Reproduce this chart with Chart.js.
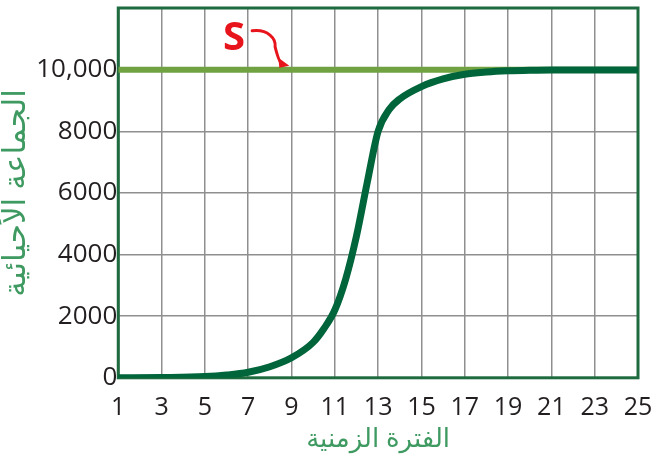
<!DOCTYPE html>
<html>
<head>
<meta charset="utf-8">
<script src="https://cdn.jsdelivr.net/npm/chart.js@4/dist/chart.umd.min.js"></script>
<style>
  html, body { margin: 0; padding: 0; background: #ffffff; }
  #wrap { width: 656px; height: 457px; position: relative; }
</style>
</head>
<body>
<div id="wrap"><canvas id="c" width="656" height="457"></canvas></div>
<script>
// ---- data ----
const timePeriods = [1, 3, 5, 6, 7, 8, 9, 10, 10.5, 11, 11.5, 12, 12.5, 13, 13.5, 14, 15, 16, 17, 18, 19, 20, 21, 22, 23, 24, 25];
const populationValues = [0, 10, 40, 90, 180, 360, 650, 1150, 1600, 2200, 3200, 4600, 6350, 8000, 8700, 9050, 9450, 9700, 9850, 9920, 9960, 9980, 9990, 9990, 9990, 9990, 9990];
const capacityX = [1, 25];
const capacityValues = [10000, 10000];
const yTickLabels = ['0', '2000', '4000', '6000', '8000', '10,000', ''];
const xAxisTitle = 'الفترة الزمنية';
const yAxisTitle = 'الجماعة الأحيائية';
const annotationText = 'S';
const annotationAt = { x: 6.35, y: 11000 };
const arrowTarget = { x: 8.9, y: 10000 };

const curvePoints = timePeriods.map((t, i) => ({ x: t, y: populationValues[i] }));
const capacityPoints = capacityX.map((t, i) => ({ x: t, y: capacityValues[i] }));

const frameColor = '#1d6b3e';
const gridColor = '#8f8f8f';
const titleColor = '#3f9a62';
const tickColor = '#231f20';

const framePlugin = {
  id: 'frame',
  beforeDatasetsDraw(chart) {
    const { ctx, chartArea: a } = chart;
    ctx.save();
    ctx.strokeStyle = frameColor;
    ctx.lineWidth = 3;
    ctx.strokeRect(a.left, a.top, a.right - a.left, a.bottom - a.top);
    ctx.restore();
  }
};

const annotationPlugin = {
  id: 'sAnnot',
  afterDatasetsDraw(chart) {
    const { ctx, scales } = chart;
    const x = scales.x.getPixelForValue(annotationAt.x);
    const y = scales.y.getPixelForValue(annotationAt.y);
    const tx = scales.x.getPixelForValue(arrowTarget.x);
    const ty = scales.y.getPixelForValue(arrowTarget.y) - 4;
    ctx.save();
    ctx.fillStyle = '#e8141b';
    ctx.strokeStyle = '#e8141b';
    ctx.font = 'bold 40px "Open Sans", sans-serif';
    ctx.textAlign = 'center';
    ctx.textBaseline = 'middle';
    ctx.fillText(annotationText, x, y);
    // curved arrow
    const sx = x + 18, sy = y - 8;
    ctx.lineWidth = 3;
    ctx.lineCap = 'round';
    ctx.beginPath();
    ctx.moveTo(sx, sy);
    ctx.bezierCurveTo(sx + 16, sy - 2, sx + 24, sy + 8, sx + 23, sy + 16);
    ctx.quadraticCurveTo(tx - 10, ty - 2, tx - 7, ty - 2);
    ctx.stroke();
    // arrow head
    ctx.beginPath();
    ctx.moveTo(tx, ty);
    ctx.lineTo(tx - 11, ty - 8);
    ctx.lineTo(tx - 10, ty + 2);
    ctx.closePath();
    ctx.fill();
    ctx.restore();
  }
};

new Chart(document.getElementById('c'), {
  type: 'scatter',
  data: {
    datasets: [
      {
        label: 'S',
        data: capacityPoints,
        showLine: true,
        borderColor: '#70a242',
        borderWidth: 6,
        pointRadius: 0,
        order: 2
      },
      {
        label: 'population',
        data: curvePoints,
        showLine: true,
        borderColor: '#00653a',
        borderWidth: 7,
        pointRadius: 0,
        cubicInterpolationMode: 'monotone',
        borderCapStyle: 'round',
        order: 1
      }
    ]
  },
  options: {
    responsive: false,
    animation: false,
    layout: { padding: { left: -2, right: 18, top: 8, bottom: 0 } },
    plugins: { legend: { display: false }, tooltip: { enabled: false } },
    scales: {
      x: {
        type: 'linear',
        min: 1, max: 25,
        afterFit: (s) => { s.paddingRight = 0; s.paddingLeft = 0; },
        ticks: { stepSize: 2, color: tickColor, padding: 15, font: { family: '"Open Sans", sans-serif', size: 25 } },
        grid: { color: gridColor, lineWidth: 1.5, drawTicks: false },
        border: { display: false },
        title: { display: true, text: xAxisTitle, color: titleColor, padding: { top: -14, bottom: 2 }, font: { family: '"Noto Sans", "DejaVu Sans", sans-serif', size: 26 } }
      },
      y: {
        min: 0, max: 12000,
        afterFit: (s) => { s.paddingTop = 0; },
        ticks: {
          stepSize: 2000, color: tickColor, padding: 1,
          font: { family: '"Open Sans", sans-serif', size: 26 },
          callback: (v, i) => yTickLabels[i]
        },
        grid: { color: gridColor, lineWidth: 1.5, drawTicks: false },
        border: { display: false },
        title: { display: true, text: yAxisTitle, color: titleColor, padding: { top: 0, bottom: 0 }, font: { family: '"Noto Sans", "DejaVu Sans", sans-serif', size: 31 } }
      }
    }
  },
  plugins: [framePlugin, annotationPlugin]
});
</script>
</body>
</html>
